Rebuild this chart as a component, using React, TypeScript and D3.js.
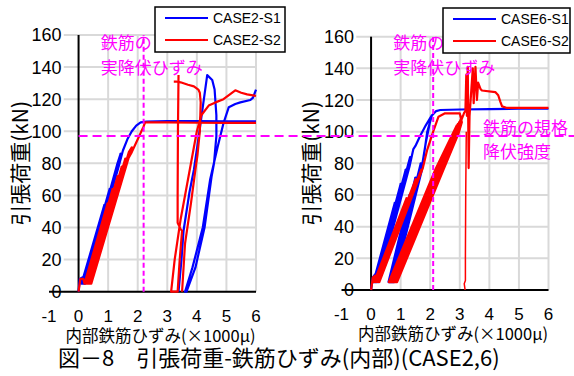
import React from 'react';
import * as d3 from 'd3';

type Pt = [number, number];

const xTicks = [-1, 0, 1, 2, 3, 4, 5, 6];
const yTicks = [0, 20, 40, 60, 80, 100, 120, 140, 160];

// CASE2 (left)
const case2S1Main: Pt[] = [
  [0, 0], [0.04, 8], [0.14, 9], [0.1, 5],
  [0.87, 54], [0.13, 5], [1.05, 64], [0.16, 5], [1.2, 72], [0.19, 5], [1.3, 79], [1.42, 86],
  [0.22, 5], [1.34, 77], [1.5, 88], [1.65, 95], [1.8, 100], [1.95, 103.5], [2.1, 105.5],
  [2.3, 106], [3, 106.3], [4, 106.3], [5, 106.2], [6, 106.2],
];
const case2S1Tail: Pt[] = [
  [3.38, 0], [3.48, 20], [3.55, 38], [3.75, 62], [3.9, 76], [4.05, 95], [4.2, 115], [4.35, 135],
  [4.52, 132], [4.6, 126], [4.66, 110], [4.66, 97], [4.58, 80], [4.5, 72], [4.26, 40], [3.95, 15],
  [3.65, 0], [3.6, 0], [3.85, 15], [4.2, 40], [4.45, 70], [4.7, 90], [4.9, 105], [5.08, 115],
  [5.3, 117], [5.47, 118], [5.81, 119.5], [5.9, 121], [6.0, 126],
];
const case2S2Main: Pt[] = [
  [0, 0], [0.06, 8], [0.16, 8], [0.2, 5],
  [0.98, 55], [0.24, 5], [1.15, 64], [0.28, 5], [1.32, 72], [0.32, 5], [1.46, 78], [0.36, 5],
  [1.58, 83], [0.4, 5], [1.7, 87], [1.8, 90], [0.43, 5], [1.62, 81], [1.8, 87], [1.95, 93],
  [2.1, 99], [2.2, 103], [2.25, 105.5], [2.5, 105.5], [3, 105.5], [4, 105.3], [5, 105.2], [6, 105.2],
];
const case2S2TailA: Pt[] = [
  [3.22, 131], [3.3, 131], [3.45, 130.5], [3.7, 129], [3.9, 128], [4.05, 126], [4.1, 124],
  [4.13, 118], [4.1, 100], [4.02, 85], [3.95, 76], [3.8, 55], [3.6, 30], [3.5, 0],
];
const case2S2TailB: Pt[] = [
  [3.38, 135], [3.36, 100], [3.35, 60], [3.35, 43], [3.45, 39], [3.5, 38], [3.42, 20], [3.35, 0],
  [3.13, 0], [3.25, 20], [3.45, 45], [3.6, 60], [3.76, 76], [3.9, 90], [4.0, 100], [4.15, 110],
  [4.4, 116], [4.63, 118], [4.9, 120], [5.3, 125.5], [5.5, 124], [5.7, 123], [6.0, 122],
];

// CASE6 (right)
const case6S1: Pt[] = [
  [0, 0], [0.06, 8], [0.14, 10], [0.08, 5],
  [0.8, 55], [0.12, 5], [1.0, 67], [0.16, 5], [1.17, 76], [0.2, 5], [1.32, 84], [0.25, 5],
  [1.3, 78], [1.43, 89], [1.5, 91], [1.65, 97], [1.85, 104], [2.06, 110.5], [1.9, 100],
  [1.72, 76], [0.78, 5], [0.59, 5], [1.3, 60], [0.64, 5], [1.5, 71], [0.7, 5], [1.68, 80],
  [0.76, 5], [1.72, 78], [1.85, 93], [1.98, 105], [2.05, 110], [2.2, 113], [2.34, 113.7], [3, 114],
  [4, 114.3], [5, 114.5], [6, 114.5],
];
const case6S2Main: Pt[] = [
  [0, 0], [0.06, 8], [0.14, 9], [0.1, 5],
  [1.2, 58], [0.16, 5], [1.51, 70], [0.22, 5], [1.7, 76], [0.28, 5], [1.75, 77], [1.89, 88],
  [2.1, 100], [2.28, 109.5], [2.5, 111.6], [3.0, 111.6], [3.07, 106], [2.96, 99], [2.45, 76],
  [0.88, 5], [0.6, 5],
  [2.17, 76], [2.9, 104], [0.64, 5], [2.21, 76], [2.94, 105], [0.68, 5], [2.25, 76], [2.98, 106],
  [0.72, 5], [2.29, 76], [3.02, 107], [0.76, 5], [2.33, 76], [3.06, 109], [0.8, 5], [2.37, 76],
  [3.1, 110], [0.84, 5], [2.41, 76], [3.15, 112], [3.19, 113],
  [3.22, 136], [3.24, 110], [3.27, 141], [3.3, 77], [3.33, 110], [3.44, 140], [3.47, 118],
  [3.53, 141], [3.58, 120], [3.62, 131], [3.7, 127], [3.75, 126], [4.2, 125], [4.3, 123],
  [4.37, 119], [4.43, 116], [4.6, 115], [6, 115],
];
const case6S2Drop: Pt[] = [
  [3.22, 100], [3.2, 60], [3.19, 20], [3.19, 6], [3.15, 4], [3.18, 0],
];

const legend2 = ['CASE2-S1', 'CASE2-S2'];
const legend6 = ['CASE6-S1', 'CASE6-S2'];
const yieldStrain2 = 2.2;
const yieldStrain6 = 2.1;
const specYieldLoad = 97;

const NUM_FONT = "'Liberation Sans', Arial, sans-serif";
const JP_FONT = "'Noto Sans CJK JP', sans-serif";
const BLUE = '#0000ff';
const RED = '#ff0000';
const MAG = '#ff00ff';

type PanelProps = {
  xr: [number, number];
  yr: [number, number];
  blue: Pt[][];
  red: Pt[][];
  redThin?: Pt[][];
  legend: string[];
  legendBox: { x: number; y: number; w: number; h: number };
  yieldStrain: number;
  titleX: number;
};

function Panel(p: PanelProps) {
  const x = d3.scaleLinear().domain([-1, 6]).range(p.xr);
  const y = d3.scaleLinear().domain([0, 160]).range(p.yr);
  const line = d3.line<Pt>().x((d) => x(d[0])).y((d) => y(d[1]));
  const lb = p.legendBox;
  const yCenter = (p.yr[0] + p.yr[1]) / 2;
  return (
    <g>
      {yTicks.map((t) => (
        <line key={'h' + t} x1={x(-0.5)} x2={x(6)} y1={y(t)} y2={y(t)} stroke="#d9d9d9" strokeWidth={2} />
      ))}
      {xTicks.filter((t) => t > 0).map((t) => (
        <line key={'v' + t} x1={x(t)} x2={x(t)} y1={y(0)} y2={y(160)} stroke="#d9d9d9" strokeWidth={2} />
      ))}
      <line x1={x(0)} x2={x(0)} y1={y(0)} y2={y(160)} stroke="#000" strokeWidth={2} />
      <line x1={x(-1)} x2={x(6)} y1={y(0)} y2={y(0)} stroke="#000" strokeWidth={2} />
      {p.blue.map((s, i) => (
        <path key={'b' + i} d={line(s) || ''} fill="none" stroke={BLUE} strokeWidth={2.2} strokeLinejoin="round" />
      ))}
      {p.red.map((s, i) => (
        <path key={'r' + i} d={line(s) || ''} fill="none" stroke={RED} strokeWidth={2.2} strokeLinejoin="round" />
      ))}
      {(p.redThin || []).map((s, i) => (
        <path key={'rt' + i} d={line(s) || ''} fill="none" stroke={RED} strokeWidth={1.5} strokeLinejoin="round" />
      ))}
      <line x1={x(p.yieldStrain)} x2={x(p.yieldStrain)} y1={y(0)} y2={y(160)} stroke={MAG} strokeWidth={2} strokeDasharray="5,3" />
      {yTicks.map((t) => (
        <text key={'yl' + t} x={x(0) - 17} y={y(t)} dy="0.36em" textAnchor="end" fontFamily={NUM_FONT} fontSize={18} fill="#000">
          {t}
        </text>
      ))}
      {xTicks.map((t) => (
        <text key={'xl' + t} x={x(t)} y={p.yr[0] + 30} textAnchor="middle" fontFamily={NUM_FONT} fontSize={17} fill="#000">
          {t}
        </text>
      ))}
      <text
        transform={`translate(${p.titleX},${yCenter}) rotate(-90)`}
        textAnchor="middle"
        dy="0.36em"
        fontFamily={JP_FONT}
        fontSize={21}
        fill="#000"
      >
        引張荷重(kN)
      </text>
      <text x={(p.xr[0] + p.xr[1]) / 2 + 8} y={p.yr[0] + 50} textAnchor="middle" fontFamily={JP_FONT} fontSize={16.5} fill="#000">
        内部鉄筋ひずみ(×1000μ)
      </text>
      <text x={x(0.75)} y={49} fontFamily={JP_FONT} fontSize={17} fill={MAG}>鉄筋の</text>
      <text x={x(0.75)} y={74} fontFamily={JP_FONT} fontSize={17} fill={MAG}>実降伏ひずみ</text>
      <rect x={lb.x} y={lb.y} width={lb.w} height={lb.h} fill="#fff" stroke="#000" strokeWidth={1.5} />
      {p.legend.map((name, i) => (
        <g key={name}>
          <line x1={lb.x + 10} x2={lb.x + 53} y1={lb.y + 11 + i * 22} y2={lb.y + 11 + i * 22} stroke={i === 0 ? BLUE : RED} strokeWidth={2} />
          <text x={lb.x + 58} y={lb.y + 11 + i * 22} dy="0.36em" fontFamily={NUM_FONT} fontSize={14} fill="#000">
            {name}
          </text>
        </g>
      ))}
    </g>
  );
}

export default function App() {
  const yLeft = d3.scaleLinear().domain([0, 160]).range([291.7, 35]);
  const xLeft = d3.scaleLinear().domain([-1, 6]).range([49, 256]);
  const hy = yLeft(specYieldLoad);
  return (
    <svg width={574} height={376} style={{ position: 'absolute', left: 0, top: 0, background: '#fff' }}>
      <rect x={0} y={0} width={574} height={376} fill="#fff" />
      <Panel
        xr={[49, 256]}
        yr={[291.7, 35]}
        blue={[case2S1Main, case2S1Tail]}
        red={[case2S2Main, case2S2TailA, case2S2TailB]}
        legend={legend2}
        legendBox={{ x: 155, y: 7, w: 130, h: 45 }}
        yieldStrain={yieldStrain2}
        titleX={20}
      />
      <Panel
        xr={[341.5, 548.5]}
        yr={[290, 36.7]}
        blue={[case6S1]}
        red={[case6S2Main]}
        redThin={[case6S2Drop]}
        legend={legend6}
        legendBox={{ x: 443, y: 8, w: 127, h: 45 }}
        yieldStrain={yieldStrain6}
        titleX={311}
      />
      <line x1={xLeft(0)} x2={574} y1={hy} y2={hy} stroke={MAG} strokeWidth={2} strokeDasharray="9,5" />
      <text x={483} y={134} fontFamily={JP_FONT} fontSize={17} fill={MAG}>鉄筋の規格</text>
      <text x={483} y={158} fontFamily={JP_FONT} fontSize={17} fill={MAG}>降伏強度</text>
      <text x={58} y={366} fontFamily={JP_FONT} fontSize={22} fill="#000">
        図－8　引張荷重-鉄筋ひずみ(内部)(CASE2,6)
      </text>
    </svg>
  );
}
